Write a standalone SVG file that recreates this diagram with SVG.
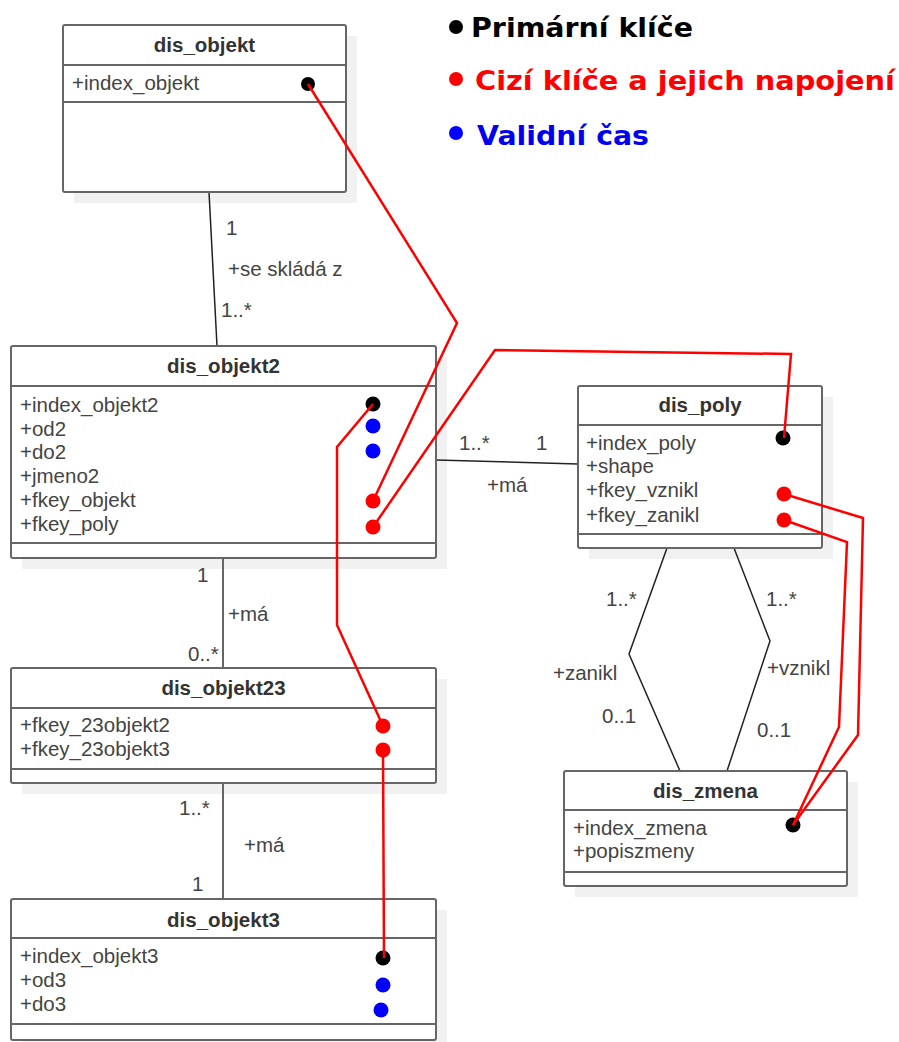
<svg xmlns="http://www.w3.org/2000/svg" width="899" height="1042" viewBox="0 0 899 1042">
<style>
.shadow{fill:#f1f1f1;stroke:none}
.box{fill:#fff;stroke:#666;stroke-width:2}
.div{stroke:#666;stroke-width:2}
.title{font-family:"Liberation Sans",Arial,sans-serif;font-size:20.5px;font-weight:bold;fill:#333;text-anchor:middle}
.attr{font-family:"Liberation Sans",Arial,sans-serif;font-size:20.5px;fill:#444}
.lbl{font-family:"Liberation Sans",Arial,sans-serif;font-size:20.5px;fill:#444}
.rel{fill:none;stroke:#222;stroke-width:1.5}
.relg{fill:none;stroke:#666;stroke-width:2}
.fk{fill:none;stroke:#ff0000;stroke-width:2.5;stroke-linejoin:miter}
.pk{fill:#000}
.rd{fill:#ff0000}
.bl{fill:#0000ff}
.leg{font-family:"DejaVu Sans",Verdana,sans-serif;font-size:27px;font-weight:bold}
</style>
<rect width="899" height="1042" fill="#fff"/>

<g id="legend">
<circle class="pk" cx="456" cy="27" r="7"/>
<text class="leg" x="471" y="37" fill="#000" textLength="222" lengthAdjust="spacingAndGlyphs">Primární klíče</text>
<circle class="rd" cx="456" cy="79" r="7"/>
<text class="leg" x="475" y="90" fill="#ff0000" textLength="420" lengthAdjust="spacingAndGlyphs">Cizí klíče a jejich napojení</text>
<circle class="bl" cx="456" cy="133" r="7"/>
<text class="leg" x="477" y="145" fill="#0000ee" textLength="172" lengthAdjust="spacingAndGlyphs">Validní čas</text>
</g>

<g id="shadows">
<rect class="shadow" x="74" y="36" width="283" height="167"/>
<rect class="shadow" x="22" y="357" width="425" height="212"/>
<rect class="shadow" x="22" y="679" width="425" height="115"/>
<rect class="shadow" x="22" y="910" width="425" height="141"/>
<rect class="shadow" x="589" y="397" width="244" height="162"/>
<rect class="shadow" x="575" y="782" width="283" height="115"/>
</g>

<g id="connectors">
<line class="rel" x1="209" y1="192" x2="217" y2="346"/>
<text class="lbl" x="226" y="235">1</text>
<text class="lbl" x="228" y="276">+se skládá z</text>
<text class="lbl" x="221" y="317">1..*</text>

<line class="relg" x1="223" y1="558" x2="223" y2="668"/>
<text class="lbl" x="197" y="582">1</text>
<text class="lbl" x="228" y="621">+má</text>
<text class="lbl" x="188" y="661">0..*</text>

<line class="relg" x1="223" y1="783" x2="223" y2="899"/>
<text class="lbl" x="179" y="815">1..*</text>
<text class="lbl" x="244" y="852">+má</text>
<text class="lbl" x="192" y="891">1</text>

<line class="rel" x1="436" y1="460" x2="578" y2="464"/>
<text class="lbl" x="459" y="450">1..*</text>
<text class="lbl" x="536" y="450">1</text>
<text class="lbl" x="487" y="492">+má</text>

<polyline class="rel" points="667,548 629,654 680,771"/>
<text class="lbl" x="606" y="606">1..*</text>
<text class="lbl" x="553" y="680">+zanikl</text>
<text class="lbl" x="602" y="723">0..1</text>

<polyline class="rel" points="734,548 770,641 727,771"/>
<text class="lbl" x="766" y="606">1..*</text>
<text class="lbl" x="767" y="675">+vznikl</text>
<text class="lbl" x="757" y="737">0..1</text>
</g>

<g id="dis_objekt">
<rect class="box" x="63" y="25" width="283" height="167" rx="2"/>
<line class="div" x1="63" y1="65" x2="346" y2="65"/>
<line class="div" x1="63" y1="102" x2="346" y2="102"/>
<text class="title" x="204.5" y="52">dis_objekt</text>
<text class="attr" x="72" y="90">+index_objekt</text>
<circle class="pk" cx="308" cy="84" r="7"/>
</g>

<g id="dis_objekt2">
<rect class="box" x="11" y="346" width="425" height="212" rx="2"/>
<line class="div" x1="11" y1="386" x2="436" y2="386"/>
<line class="div" x1="11" y1="543" x2="436" y2="543"/>
<text class="title" x="223.5" y="373">dis_objekt2</text>
<text class="attr" x="20" y="412">+index_objekt2</text>
<text class="attr" x="20" y="435.5">+od2</text>
<text class="attr" x="20" y="459">+do2</text>
<text class="attr" x="20" y="483">+jmeno2</text>
<text class="attr" x="20" y="507">+fkey_objekt</text>
<text class="attr" x="20" y="531">+fkey_poly</text>
<circle class="pk" cx="373" cy="404" r="7.5"/>
<circle class="bl" cx="373" cy="426" r="7.5"/>
<circle class="bl" cx="373" cy="451" r="7.5"/>
<circle class="rd" cx="373" cy="501" r="7.5"/>
<circle class="rd" cx="373" cy="527" r="7.5"/>
</g>

<g id="dis_objekt23">
<rect class="box" x="11" y="668" width="425" height="115" rx="2"/>
<line class="div" x1="11" y1="708" x2="436" y2="708"/>
<line class="div" x1="11" y1="769" x2="436" y2="769"/>
<text class="title" x="223.5" y="695">dis_objekt23</text>
<text class="attr" x="20" y="732">+fkey_23objekt2</text>
<text class="attr" x="20" y="756">+fkey_23objekt3</text>
<circle class="rd" cx="383" cy="726" r="7.5"/>
<circle class="rd" cx="383" cy="750" r="7.5"/>
</g>

<g id="dis_objekt3">
<rect class="box" x="11" y="899" width="425" height="141" rx="2"/>
<line class="div" x1="11" y1="938" x2="436" y2="938"/>
<line class="div" x1="11" y1="1024" x2="436" y2="1024"/>
<text class="title" x="223.5" y="927">dis_objekt3</text>
<text class="attr" x="20" y="963">+index_objekt3</text>
<text class="attr" x="20" y="987">+od3</text>
<text class="attr" x="20" y="1011">+do3</text>
<circle class="pk" cx="383" cy="958" r="7.5"/>
<circle class="bl" cx="383" cy="985" r="7.5"/>
<circle class="bl" cx="381" cy="1010" r="7.5"/>
</g>

<g id="dis_poly">
<rect class="box" x="578" y="386" width="244" height="162" rx="2"/>
<line class="div" x1="578" y1="425" x2="822" y2="425"/>
<line class="div" x1="578" y1="534" x2="822" y2="534"/>
<text class="title" x="700" y="412">dis_poly</text>
<text class="attr" x="586" y="450">+index_poly</text>
<text class="attr" x="586" y="473">+shape</text>
<text class="attr" x="586" y="497">+fkey_vznikl</text>
<text class="attr" x="586" y="522">+fkey_zanikl</text>
<circle class="pk" cx="783" cy="438" r="7.5"/>
<circle class="rd" cx="784" cy="494" r="7.5"/>
<circle class="rd" cx="784" cy="520" r="7.5"/>
</g>

<g id="dis_zmena">
<rect class="box" x="564" y="771" width="283" height="115" rx="2"/>
<line class="div" x1="564" y1="810" x2="847" y2="810"/>
<line class="div" x1="564" y1="872" x2="847" y2="872"/>
<text class="title" x="705.5" y="798">dis_zmena</text>
<text class="attr" x="573" y="835">+index_zmena</text>
<text class="attr" x="573" y="858">+popiszmeny</text>
<circle class="pk" cx="793" cy="825" r="7.5"/>
</g>

<g id="fk-links">
<polyline class="fk" points="308,84 457,323 373,501"/>
<polyline class="fk" points="373,527 495,350 791,354 784,438"/>
<polyline class="fk" points="373,404 337,447 337,625 383,726"/>
<polyline class="fk" points="383,750 384,958"/>
<polyline class="fk" points="784,494 863,518 858,735 793,825"/>
<polyline class="fk" points="784,520 847,542 839,727 793,825"/>
</g>
</svg>
